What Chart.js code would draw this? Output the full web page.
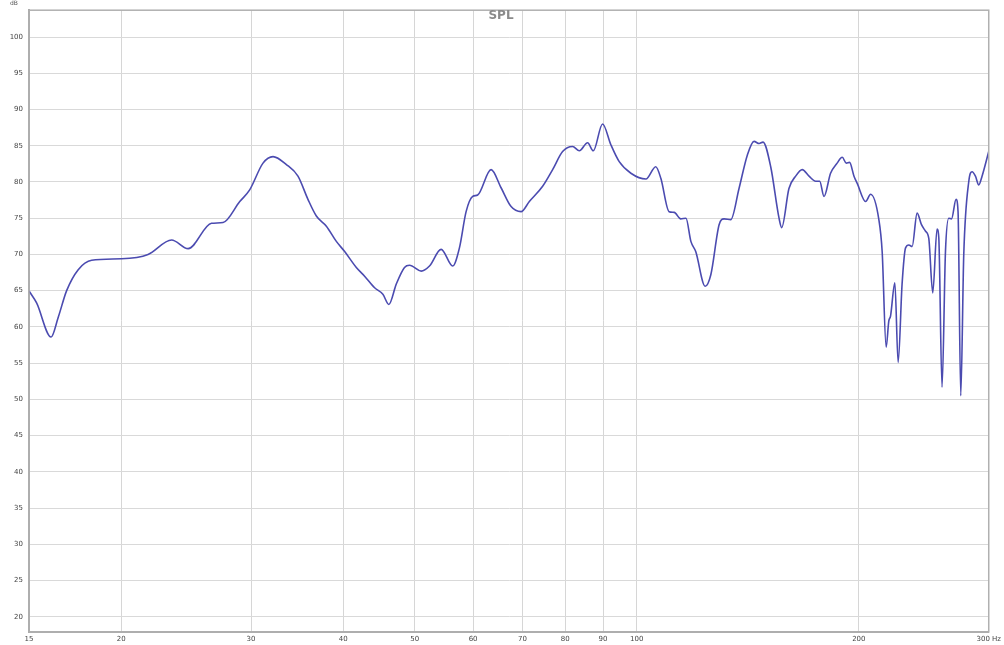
<!DOCTYPE html>
<html>
<head>
<meta charset="utf-8">
<script src="https://cdn.jsdelivr.net/npm/chart.js@4/dist/chart.umd.min.js"></script>
<style>
  html, body { margin: 0; padding: 0; background: #fff; }
  #wrap { position: relative; width: 1004px; height: 645px; }
</style>
</head>
<body>
<div id="wrap"><canvas id="splChart"></canvas></div>
<script>
// values
const freqHz = [
  15.0, 15.36, 16.07, 16.43, 16.87, 17.49, 18.24, 20.03, 21.75, 23.41,
  24.65, 26.51, 27.49, 28.96, 29.87, 31.14, 32.13, 33.5, 34.73, 35.83,
  36.78, 37.95, 39.15, 40.18, 41.67, 42.76, 44.12, 45.27, 46.13, 47.2,
  48.43, 49.2, 51.02, 52.36, 54.3, 56.3, 57.49, 58.7, 59.92, 60.86,
  63.46, 65.47, 67.55, 69.68, 71.51, 74.54, 76.9, 79.33, 81.85, 83.58,
  85.77, 87.31, 89.87, 92.26, 94.67, 98.18, 102.9, 106.1, 107.8, 110.6,
  112.4, 114.7, 116.6, 118.4, 120.2, 123.8, 126.0, 129.3, 131.3, 134.1,
  137.6, 141.2, 144.2, 146.5, 148.3, 151.9, 155.9, 157.2, 160.8, 164.2,
  167.6, 171.2, 174.8, 177.0, 179.4, 183.1, 186.9, 189.9, 192.3, 194.3,
  197.0, 199.0, 204.3, 207.5, 212.9, 215.1, 217.8, 219.6, 220.8, 223.8,
  226.1, 228.9, 231.4, 233.8, 236.2, 239.9, 243.2, 246.3, 248.8, 251.9,
  255.3, 256.7, 259.3, 262.1, 264.8, 267.1, 270.9, 272.6, 274.9, 277.5,
  281.9, 284.8, 287.8, 290.8, 293.8, 300
];
const splDb = [
  64.95, 63.3, 58.6, 61.3, 65.0, 67.9, 69.2, 69.4, 70.0, 72.0,
  70.8, 74.3, 74.4, 77.3, 78.9, 82.6, 83.5, 82.4, 80.8, 77.6,
  75.3, 73.9, 71.8, 70.4, 68.2, 67.0, 65.4, 64.5, 63.1, 65.9,
  68.2, 68.5, 67.7, 68.4, 70.7, 68.4, 70.9, 75.9, 78.0, 78.2,
  81.7, 79.2, 76.6, 75.9, 77.3, 79.4, 81.7, 84.2, 84.9, 84.3,
  85.4, 84.3, 88.0, 85.1, 82.8, 81.2, 80.4, 82.1, 80.5, 75.9,
  75.8, 74.9, 75.0, 71.8, 70.4, 65.6, 67.2, 74.1, 74.9, 74.8,
  79.1, 83.7, 85.6, 85.3, 85.5, 82.1, 75.0, 73.7, 79.1, 80.8,
  81.7, 80.8, 80.1, 80.1, 78.0, 81.2, 82.6, 83.4, 82.6, 82.7,
  80.8, 79.8, 77.3, 78.3, 74.8, 70.4, 57.2, 60.8, 61.5, 66.1,
  55.1, 65.9, 70.9, 71.3, 71.1, 75.7, 74.1, 73.2, 72.2, 64.7,
  73.5, 72.3, 51.7, 70.4, 75.0, 74.9, 77.6, 75.9, 50.5, 70.0,
  80.1, 81.4, 80.8, 79.6, 80.8, 84.2
];
const xTicks = [15, 20, 30, 40, 50, 60, 70, 80, 90, 100, 200, 300];
const yMin = 17.9;
const yMax = 103.7;

const points = freqHz.map((f, i) => ({ x: f, y: splDb[i] }));

// frame, title and unit label drawn on top of the plot
const decorations = {
  id: "decorations",
  afterDraw(chart) {
    const ctx = chart.ctx;
    const a = chart.chartArea;
    ctx.save();
    ctx.strokeStyle = "#b0b0b0";
    ctx.lineWidth = 1.5;
    ctx.strokeRect(a.left, a.top, a.right - a.left, a.bottom - a.top);
    ctx.fillStyle = "#8a8a8a";
    ctx.font = "bold 12px 'DejaVu Sans', sans-serif";
    ctx.textAlign = "center";
    ctx.textBaseline = "middle";
    ctx.fillText("SPL", 501, 16);
    ctx.fillStyle = "#555";
    ctx.font = "6px 'DejaVu Sans', sans-serif";
    ctx.fillText("dB", 14, 3);
    ctx.restore();
  },
};

new Chart(document.getElementById("splChart"), {
  type: "line",
  data: {
    datasets: [
      {
        label: "SPL",
        data: points,
        borderColor: "#4b4bb0",
        borderWidth: 1.6,
        pointRadius: 0,
        fill: false,
        cubicInterpolationMode: "monotone",
      },
    ],
  },
  options: {
    responsive: true,
    maintainAspectRatio: false,
    animation: false,
    layout: { padding: { top: 8, right: 14, left: 0, bottom: 0 } },
    plugins: { legend: { display: false }, tooltip: { enabled: false } },
    scales: {
      x: {
        type: "logarithmic",
        min: 15,
        max: 300,
        afterBuildTicks: (scale) => {
          scale.ticks = xTicks.map((v) => ({ value: v }));
        },
        afterFit: (scale) => {
          scale.height = 13;
        },
        grid: { color: "#d6d6d6", lineWidth: 1, drawTicks: false },
        border: { display: true, color: "#a8a8a8", width: 2 },
        ticks: {
          autoSkip: false,
          maxRotation: 0,
          padding: 3,
          color: "#444",
          font: { size: 7, family: "'DejaVu Sans', sans-serif" },
          callback: (v) => (v === 300 ? "300 Hz" : String(v)),
        },
      },
      y: {
        min: yMin,
        max: yMax,
        afterFit: (scale) => {
          scale.width = 29;
        },
        grid: { color: "#d9d9d9", lineWidth: 1, drawTicks: false },
        border: { display: true, color: "#a8a8a8", width: 2 },
        ticks: {
          stepSize: 5,
          includeBounds: false,
          padding: 6,
          color: "#444",
          font: { size: 7, family: "'DejaVu Sans', sans-serif" },
        },
      },
    },
  },
  plugins: [decorations],
});
</script>
</body>
</html>
